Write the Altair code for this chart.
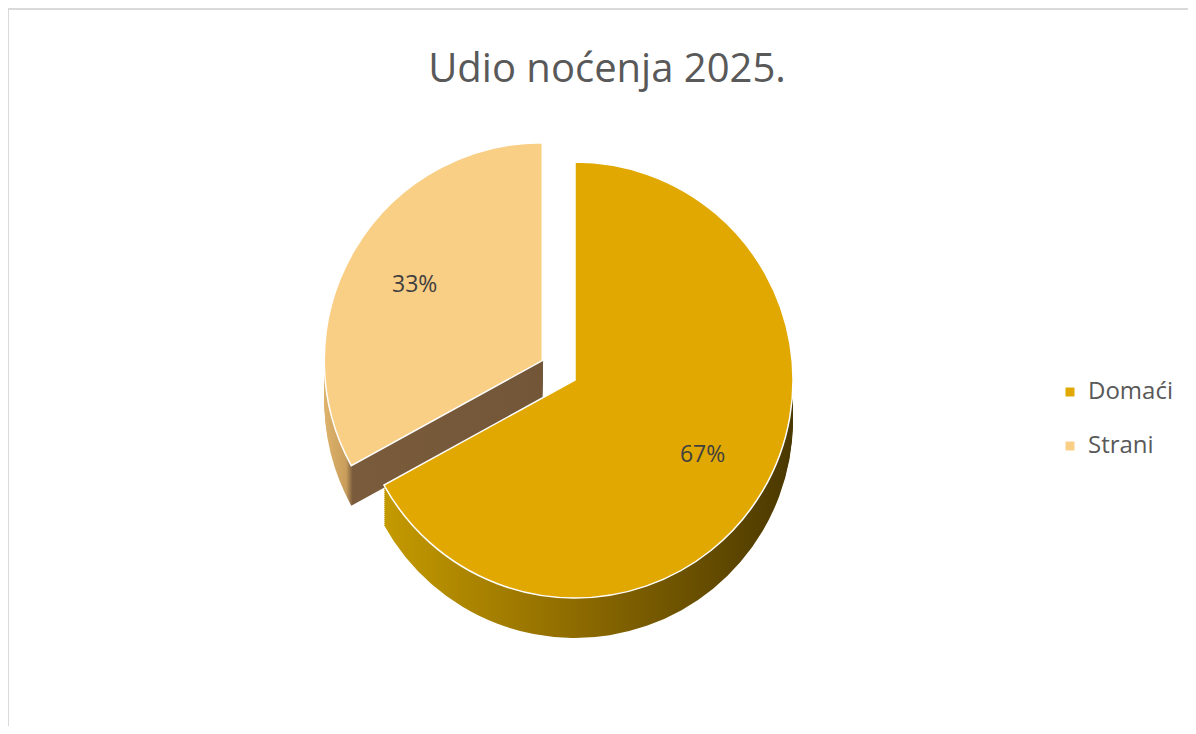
import altair as alt
import pandas as pd

# ---- data ----
categories = ["Domaći", "Strani"]
values = [67, 33]
labels = ["67%", "33%"]
title_text = "Udio noćenja 2025."

# ---- styles / layout ----
top_colors = ["#E0A800", "#F9CE85"]
W, H = 1180, 718
CX, CY = 567, 372
R = 218
DEPTH = 40
EXPLODE = 38
FONT = "Open Sans"

df = pd.DataFrame({"cat": categories, "value": values, "label": labels,
                   "order": list(range(len(categories)))})
steps = list(range(DEPTH, 0, -2))
df_depth = df.merge(pd.DataFrame({"d": steps}), how="cross")


def geo(chart, groupby=None):
    gb = groupby or []
    return (chart
            .transform_joinaggregate(total="sum(value)", groupby=gb)
            .transform_window(cum="sum(value)", sort=[alt.SortField("order")],
                              frame=[None, 0], groupby=gb)
            .transform_calculate(
                t0="(datum.cum - datum.value) / datum.total * 2 * PI",
                t1="datum.cum / datum.total * 2 * PI",
                tm="(datum.t0 + datum.t1) / 2",
                ex=f"datum.cat == 'Strani' ? {EXPLODE} : 0",
                cx=f"{CX} + datum.ex * sin(datum.tm)",
                cy=f"{CY} - datum.ex * cos(datum.tm)",
            ))


def arc_enc(ycol="cy"):
    return dict(
        theta=alt.Theta("t0:Q", scale=None),
        theta2="t1:Q",
        x=alt.X("cx:Q", scale=None, axis=None),
        y=alt.Y(f"{ycol}:Q", scale=None, axis=None),
    )


str_grad = {"gradient": "linear", "x1": 0, "x2": 1, "y1": 0, "y2": 0,
            "stops": [{"offset": 0, "color": "#DDB26A"},
                      {"offset": 0.1, "color": "#C99E5C"},
                      {"offset": 0.13, "color": "#7A5C3C"},
                      {"offset": 1, "color": "#735638"}]}

strani_side = (geo(alt.Chart(df_depth), ["d"])
               .transform_filter("datum.cat == 'Strani'")
               .transform_calculate(cyd="datum.cy + datum.d")
               .mark_arc(radius=R, fill=str_grad)
               .encode(**arc_enc("cyd")))

dom_grad = {"gradient": "linear", "x1": 0, "x2": 1, "y1": 0, "y2": 0,
            "stops": [{"offset": 0, "color": "#C49A00"},
                      {"offset": 0.5, "color": "#8A6800"},
                      {"offset": 1, "color": "#4A3800"}]}

dom_side = (geo(alt.Chart(df_depth), ["d"])
            .transform_filter("datum.cat == 'Domaći'")
            .transform_calculate(cyd="datum.cy + datum.d")
            .mark_arc(radius=R, fill=dom_grad)
            .encode(**arc_enc("cyd")))

tops = (geo(alt.Chart(df))
        .mark_arc(radius=R, stroke="white", strokeWidth=1.5)
        .encode(**arc_enc(),
                order=alt.Order("order:Q", sort="descending"),
                color=alt.Color("cat:N", scale=alt.Scale(domain=categories, range=top_colors),
                                legend=alt.Legend(title=None, orient="none", legendX=1050,
                                                  legendY=372, symbolType="square",
                                                  symbolSize=80, symbolStrokeWidth=0,
                                                  labelFont=FONT, labelFontSize=24,
                                                  labelColor="#595959", rowPadding=30,
                                                  labelOffset=6))))

pct = (geo(alt.Chart(df))
       .transform_calculate(
           lx=f"datum.cx + {R * 0.68} * sin(datum.tm)",
           ly=f"datum.cy - {R * 0.68} * cos(datum.tm)")
       .mark_text(font=FONT, fontSize=23, color="#404040")
       .encode(x=alt.X("lx:Q", scale=None, axis=None),
               y=alt.Y("ly:Q", scale=None, axis=None),
               text="label:N"))

title = (alt.Chart(pd.DataFrame({"t": [title_text]}))
         .mark_text(font=FONT, fontSize=40, color="#595959")
         .encode(x=alt.value(599), y=alt.value(62), text="t:N"))

border_left = (alt.Chart(pd.DataFrame({"a": [0]}))
               .mark_rule(color="#D9D9D9", strokeWidth=2)
               .encode(x=alt.value(0), y=alt.value(0), y2=alt.value(H)))
border_top = (alt.Chart(pd.DataFrame({"a": [0]}))
              .mark_rule(color="#D9D9D9", strokeWidth=2)
              .encode(y=alt.value(1), x=alt.value(0), x2=alt.value(W)))

chart = (alt.layer(border_left, border_top, title, strani_side,
                   dom_side, tops, pct)
         .properties(width=W, height=H, padding=0,
                     autosize=alt.AutoSizeParams(type="none"))
         .configure_view(stroke=None)
         .configure(background="white"))

chart.save("out.html", embed_options={"renderer": "svg", "actions": False})
